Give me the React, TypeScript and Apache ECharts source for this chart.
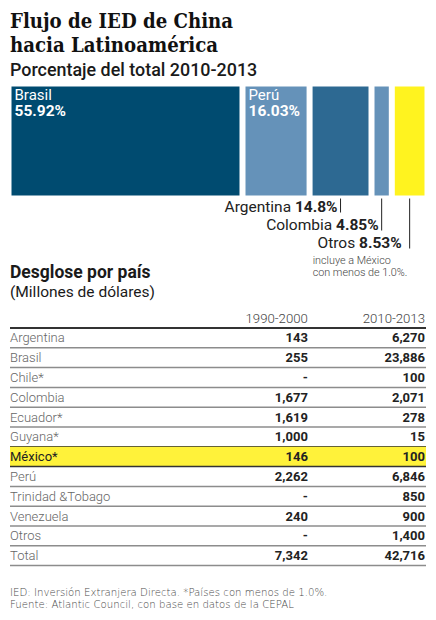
import React, { useEffect, useRef } from 'react';
import * as echarts from 'echarts';

// ---- data ----
const shareNames = ['Brasil', 'Perú', 'Argentina', 'Colombia', 'Otros'];
const shareValues = [55.92, 16.03, 14.8, 4.85, 8.53];
const shareLabels = ['55.92%', '16.03%', '14.8%', '4.85%', '8.53%'];
const otrosNote = ['incluye a México', 'con menos de 1.0%.'];

const periods = ['1990-2000', '2010-2013'];
const countries = [
  'Argentina', 'Brasil', 'Chile*', 'Colombia', 'Ecuador*', 'Guyana*', 'México*',
  'Perú', 'Trinidad &Tobago', 'Venezuela', 'Otros', 'Total',
];
const ied1990: (number | null)[] = [143, 255, null, 1677, 1619, 1000, 146, 2262, null, 240, null, 7342];
const ied2010: (number | null)[] = [6270, 23886, 100, 2071, 278, 15, 100, 6846, 850, 900, 1400, 42716];
const highlightCountry = 'México*';

const titleLines = ['Flujo de IED de China', 'hacia Latinoamérica'];
const subtitle = 'Porcentaje del total 2010-2013';
const tableTitle = 'Desglose por país';
const tableUnit = '(Millones de dólares)';
const footnotes = [
  'IED: Inversión Extranjera Directa. *Países con menos de 1.0%.',
  'Fuente: Atlantic Council, con base en datos de la CEPAL',
];

// ---- styles ----
const SANS = 'Roboto, "Open Sans", sans-serif';
const WIDE = '"DejaVu Sans", Verdana, sans-serif';
const SERIF = '"DejaVu Serif Condensed", "DejaVu Serif", "Liberation Serif", serif';
const shareColors = ['#004b70', '#6592b9', '#2d6992', '#6592b9', '#fff31f'];
const COL1 = 71.6;

const fmt = (v: number | null) => (v == null ? '-' : v.toLocaleString('en-US'));

export default function App() {
  const ref = useRef<HTMLDivElement>(null);

  useEffect(() => {
    document.body.style.margin = '0';
    const chart = echarts.init(ref.current!, undefined, { renderer: 'svg' });

    const total = shareValues.reduce((a, b) => a + b, 0);
    const starts = shareValues.map((_, i) => shareValues.slice(0, i).reduce((a, b) => a + b, 0));
    const annotIdx = [2, 3, 4];

    const barSeries = shareNames.map((n, i) => ({
      type: 'bar',
      name: n,
      stack: 'share',
      xAxisIndex: 0,
      yAxisIndex: 0,
      barWidth: '100%',
      data: [shareValues[i]],
      itemStyle: { color: shareColors[i], borderColor: '#ffffff', borderWidth: 3 },
      label: i < 2
        ? {
            show: true,
            position: [6, 3],
            formatter: () => `{n|${n}}\n{p|${shareLabels[i]}}`,
            rich: {
              n: { fontFamily: SANS, fontSize: 15, color: '#ffffff', lineHeight: 16.5 },
              p: { fontFamily: SANS, fontSize: 15.5, fontWeight: 'bold', color: '#ffffff', lineHeight: 16.5 },
            },
          }
        : { show: false },
    }));

    const annotSeries = {
      type: 'custom',
      xAxisIndex: 0,
      yAxisIndex: 0,
      silent: true,
      clip: false,
      data: annotIdx.map((i) => [starts[i], starts[i] + shareValues[i], 0]),
      encode: { x: [0, 1], y: 2 },
      renderItem: (params: any, api: any) => {
        const k = params.dataIndex;
        const i = annotIdx[k];
        const mid = api.coord([(api.value(0) + api.value(1)) / 2, 0]);
        const band = api.size([0, 1])[1];
        const bottom = mid[1] + band / 2;
        const yEnd = bottom + 14 + 18 * k;
        const gap = k === 2 ? 8 : 3;
        const children: any[] = [
          {
            type: 'line',
            shape: { x1: mid[0], y1: bottom - 15, x2: mid[0], y2: yEnd },
            style: { stroke: '#222222', lineWidth: 1 },
          },
          {
            type: 'text',
            x: mid[0] - gap,
            y: yEnd - 5.5,
            style: {
              text: `{n|${shareNames[i]} }{p|${shareLabels[i]}}`,
              rich: {
                n: { fontFamily: SANS, fontSize: 15.5, fill: '#222222' },
                p: { fontFamily: SANS, fontSize: 15.5, fontWeight: 'bold', fill: '#222222' },
              },
              align: 'right',
              verticalAlign: 'middle',
            },
          },
        ];
        if (i === 4) {
          children.push({
            type: 'text',
            x: mid[0] - 97,
            y: yEnd + 5.5,
            style: {
              text: otrosNote.join('\n'),
              fontFamily: SANS,
              fontSize: 10.8,
              fontWeight: 300,
              lineHeight: 12.6,
              fill: '#444444',
              align: 'left',
              verticalAlign: 'top',
            },
          });
        }
        return { type: 'group', children };
      },
    };

    const rowKeys = ['', ...countries];
    const tableSeries = {
      type: 'custom',
      xAxisIndex: 1,
      yAxisIndex: 1,
      silent: true,
      clip: false,
      data: rowKeys.map((_, r) => [0, r]),
      encode: { x: 0, y: 1 },
      renderItem: (params: any, api: any) => {
        const r = params.dataIndex;
        const c = api.coord([0, r]);
        const band = api.size([0, 1])[1];
        const bot = c[1] + band / 2;
        const top = c[1] - band / 2;
        const xL = c[0];
        const xM = api.coord([COL1, r])[0];
        const xR = api.coord([100, r])[0] - 1;
        const children: any[] = [];
        if (r === 0) {
          periods.forEach((p, j) => {
            children.push({
              type: 'text',
              x: j === 0 ? xM : xR,
              y: c[1],
              style: { text: p, fontFamily: SANS, fontSize: 13.2, fontWeight: 300, fill: '#444444', align: 'right', verticalAlign: 'middle' },
            });
          });
          children.push({
            type: 'line',
            shape: { x1: xL, y1: bot, x2: xR + 1, y2: bot },
            style: { stroke: '#333333', lineWidth: 2 },
          });
          return { type: 'group', children };
        }
        const name = countries[r - 1];
        const hl = name === highlightCountry;
        const nextHl = countries[r] === highlightCountry;
        if (hl) {
          children.push({
            type: 'rect',
            shape: { x: xL, y: top, width: xR + 1 - xL, height: band },
            style: { fill: '#fff23a' },
          });
        }
        children.push({
          type: 'text',
          x: xL,
          y: c[1],
          style: { text: name, fontFamily: SANS, fontSize: 13, fontWeight: hl ? 400 : 300, fill: hl ? '#222222' : '#666666', align: 'left', verticalAlign: 'middle' },
        });
        [ied1990[r - 1], ied2010[r - 1]].forEach((v, j) => {
          children.push({
            type: 'text',
            x: j === 0 ? xM : xR,
            y: c[1],
            style: { text: fmt(v), fontFamily: SANS, fontSize: 13, fontWeight: 'bold', fill: '#222222', align: 'right', verticalAlign: 'middle' },
          });
        });
        children.push({
          type: 'line',
          shape: { x1: xL, y1: bot, x2: xR + 1, y2: bot },
          style: { stroke: hl || nextHl ? '#333333' : '#8c8c8c', lineWidth: 1.5 },
        });
        return { type: 'group', children };
      },
    };

    const txt = (text: string, x: number, y: number, s: any, va = 'middle') => ({
      type: 'text',
      x,
      y,
      silent: true,
      style: { text, align: 'left', verticalAlign: va, ...s },
    });

    chart.setOption({
      animation: false,
      backgroundColor: '#ffffff',
      grid: [
        { left: 8.5, right: 8.5, top: 83.5, height: 115 },
        { left: 10, right: 10, top: 308.2, height: 257.4 },
      ],
      xAxis: [
        { gridIndex: 0, type: 'value', min: 0, max: total, show: false },
        { gridIndex: 1, type: 'value', min: 0, max: 100, show: false },
      ],
      yAxis: [
        { gridIndex: 0, type: 'category', data: ['2010-2013'], show: false },
        { gridIndex: 1, type: 'category', data: rowKeys, inverse: true, show: false },
      ],
      graphic: [
        txt(titleLines.join('\n'), 10, 9.5, { fontFamily: SERIF, fontSize: 20.2, fontWeight: 'bold', lineHeight: 23.6, fill: '#111111' }, 'top'),
        txt(subtitle, 10, 69.5, { fontFamily: SANS, fontSize: 17.9, fontWeight: 500, fill: '#1a1a1a' }),
        txt(tableTitle, 10, 271.5, { fontFamily: SANS, fontSize: 17.5, fontWeight: 'bold', fill: '#1a1a1a' }),
        txt(tableUnit, 10, 291.5, { fontFamily: SANS, fontSize: 15.5, fontWeight: 400, fill: '#1a1a1a' }),
        txt(footnotes.join('\n'), 10, 585.8, { fontFamily: WIDE, fontSize: 10.2, fontWeight: 300, lineHeight: 12.5, fill: '#4a4a4a' }, 'top'),
      ],
      series: [...barSeries, annotSeries, tableSeries],
    });

    return () => chart.dispose();
  }, []);

  return <div ref={ref} style={{ width: 436, height: 620 }} />;
}
